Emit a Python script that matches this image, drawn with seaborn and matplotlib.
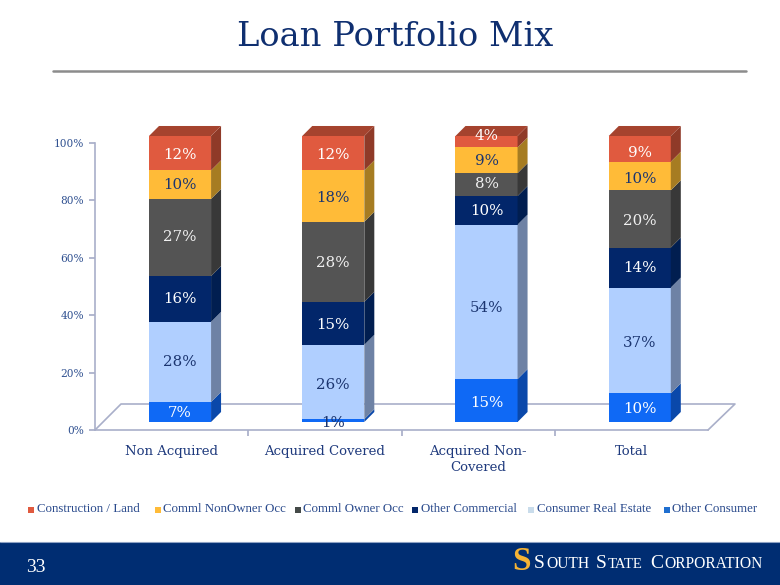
import matplotlib
matplotlib.use("Agg")
import matplotlib.pyplot as plt
import seaborn as sns
import pandas as pd
import numpy as np
from matplotlib.patches import Polygon, Rectangle
from matplotlib.lines import Line2D

categories = ["Non Acquired", "Acquired Covered", "Acquired Non-\nCovered", "Total"]
other_consumer = [7, 1, 15, 10]
consumer_re = [28, 26, 54, 37]
other_comm = [16, 15, 10, 14]
comml_owner = [27, 28, 8, 20]
comml_nonowner = [10, 18, 9, 10]
construction = [12, 12, 4, 9]
series_names = ["Other Consumer", "Consumer Real Estate", "Other Commercial",
                "Comml Owner Occ", "Comml NonOwner Occ", "Construction / Land"]
series_vals = [other_consumer, consumer_re, other_comm, comml_owner, comml_nonowner, construction]
colors = ["#0F69F5", "#B0CFFF", "#02266A", "#545454", "#FFBB38", "#E05A3F"]
side_colors = ["#0A48AA", "#6E82A5", "#011E50", "#383838", "#A67C22", "#8F3A28"]
legend_colors = ["#1F6FD0", "#C9DCEB", "#02266A", "#444A48", "#FFBB38", "#E05A3F"]
label_colors = ["white", "#1B3570", "white", "#F0F0F0", "#1B3570", "white"]
label_colors_small = "#1B3570"
y_ticks = [0, 20, 40, 60, 80, 100]
# label placement tweaks in pixels (down is positive), one row per series
label_nudge_px = [[2, -2, 4, 2], [1, 4, 7, 4], [1, 3, 2, 2], [1, 2, 1, 3], [2, 3, 2, 4], [3, 3, -5, 5]]

NAVY = "#1F3A7D"
W, H = 780, 585
sns.set_theme(style="white")
plt.rcParams["font.family"] = ["DejaVu Serif"]

fig = plt.figure(figsize=(7.8, 5.85), dpi=100, facecolor="white")

def rect(l, t, r, b):
    return [l / W, 1 - b / H, (r - l) / W, (b - t) / H]

# axis frame (0% at y=430, 100% at y=143)
ax = fig.add_axes(rect(95, 143, 708, 430))
ax.set_xlim(-0.5, 3.5)
ax.set_ylim(0, 100)
ax.patch.set_alpha(0)
for s in ["top", "right"]:
    ax.spines[s].set_visible(False)
for s in ["left", "bottom"]:
    ax.spines[s].set_color("#A9AFC9")
    ax.spines[s].set_linewidth(1.2)
ax.set_xticks([0.5, 1.5, 2.5])
ax.set_xticks([0, 1, 2, 3], labels=categories, minor=True)
ax.tick_params(axis="x", which="major", length=4, color="#A9AFC9", labelbottom=False, bottom=True)
ax.tick_params(axis="x", which="minor", length=0, pad=11, labelsize=9.5, labelcolor=NAVY)
ax.set_yticks(y_ticks, labels=[f"{v}%" for v in y_ticks])
ax.tick_params(axis="y", length=4, color="#A9AFC9", pad=4, labelsize=7.6, labelcolor="#2F5090", left=True)
for t in ax.get_xticklabels(minor=True):
    t.set_linespacing(1.25)
ax.plot([0, 26 / 613, 1 + 0.044, 1], [0, 26 / 287, 26 / 287, 0], transform=ax.transAxes,
        color="#A9AFC9", lw=1.2, clip_on=False, zorder=0)

# bars (front plane is offset from the axis frame)
bx = fig.add_axes(rect(103.4, 136, 716.4, 422))
bx.patch.set_alpha(0)

df = pd.DataFrame({"cat": categories})
bottom = np.zeros(len(categories))
dx, dy = 10 / 153.25, 3.5
px_to_data = 100 / 286
for name, vals, c, sc, lc, nudge in zip(series_names, series_vals, colors, side_colors,
                                        label_colors, label_nudge_px):
    df[name] = vals
    before = len(bx.patches)
    sns.barplot(data=df, x="cat", y=name, color=c, saturation=1, width=0.405,
                bottom=bottom, ax=bx, linewidth=0)
    new = list(bx.patches)[before:]
    for p, v, b in zip(new, vals, bottom):
        x1 = p.get_x() + p.get_width()
        y0, y1 = b, b + v
        bx.add_patch(Polygon([(x1, y0), (x1 + dx, y0 + dy), (x1 + dx, y1 + dy), (x1, y1)],
                             closed=True, fc=sc, ec="none", clip_on=False, zorder=1.5))
    for i, (v, b, n) in enumerate(zip(vals, bottom, nudge)):
        col = label_colors_small if v == 1 else lc
        yy = b + v / 2 + (0.4 if v > 1 else -1.6) - n * px_to_data
        bx.text(i, yy, f"{v}%", ha="center", va="center", color=col, fontsize=10.8, zorder=5)
    bottom = bottom + np.array(vals)
    if name == "Construction / Land":
        for p, t in zip(new, bottom):
            x0 = p.get_x()
            x1 = x0 + p.get_width()
            bx.add_patch(Polygon([(x0, t), (x0 + dx, t + dy), (x1 + dx, t + dy), (x1, t)],
                                 closed=True, fc="#A5432E", ec="none", clip_on=False, zorder=1.5))
bx.set_xlim(-0.5, 3.5)
bx.set_ylim(0, 100)
bx.axis("off")

# legend as one row, order as in the reference
swatch_x = [28, 155, 295, 412, 528, 664]
legend_text_x = [37, 163, 303, 421, 537, 672]
for name, c, sx, tx in zip(series_names[::-1], legend_colors[::-1], swatch_x, legend_text_x):
    fig.add_artist(Rectangle((sx / W, 1 - 513 / H), 6 / W, 6 / H, fc=c, ec="none",
                             transform=fig.transFigure))
    fig.text(tx / W, 1 - 509 / H, name, color="#2A4A8C", fontsize=9.3, va="center",
             family="Liberation Serif")

# slide furniture
fig.text(395.5 / W, 1 - 37 / H, "Loan Portfolio Mix", ha="center", va="center",
         color="#0F2F70", fontsize=24.3)
fig.add_artist(Line2D([53 / W, 746 / W], [1 - 71 / H] * 2, color="#8C8C8C", lw=1.8,
                      transform=fig.transFigure))
fig.add_artist(Rectangle((0, 0), 1, 43 / H, fc="#002D72", ec="none", transform=fig.transFigure))
fig.add_artist(Line2D([0, 1], [43 / H] * 2, color="#8EA2C4", lw=0.8, transform=fig.transFigure))
fig.text(26 / W, 1 - 567 / H, "33", color="white", fontsize=14, va="center",
         family="Liberation Serif")
fig.text(521 / W, 1 - 562 / H, "S", color="#F5B335", fontsize=24, va="center", ha="center",
         family="Liberation Serif", fontweight="bold")
for x, txt, size, yy in [(534, "S", 14, 563), (546, "OUTH", 11.2, 564),
                         (596, "S", 14, 563), (608, "TATE", 10.6, 564),
                         (650, "C", 14, 563), (664, "ORPORATION", 11.2, 564)]:
    fig.text(x / W, 1 - yy / H, txt, color="white", fontsize=size, va="center",
             family="Liberation Serif")

fig.savefig("out.png", dpi=100)
